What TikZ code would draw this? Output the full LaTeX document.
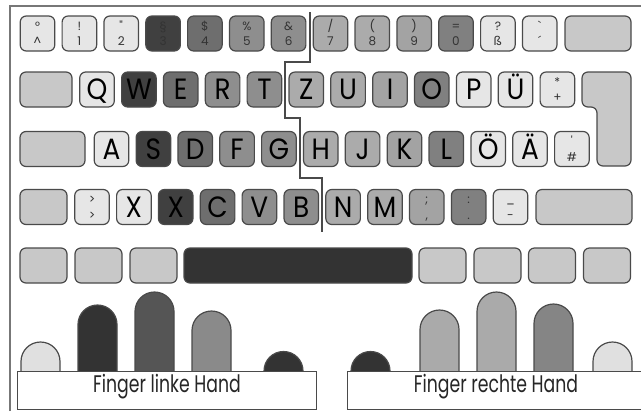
\documentclass[tikz,border=0pt]{standalone}
\usepackage{fontspec}
\newfontfamily\keyfont[FakeStretch=0.9]{Poppins}
\newfontfamily\symfont{Poppins}
\newfontfamily\labfont[FakeStretch=0.72]{Poppins}
\definecolor{kb}{HTML}{4A4A4A}
\definecolor{lk}{HTML}{E6E6E6}
\definecolor{mk}{HTML}{C8C8C8}
\definecolor{rl}{HTML}{404040}
\definecolor{ml}{HTML}{6E6E6E}
\definecolor{il}{HTML}{8E8E8E}
\definecolor{ir}{HTML}{ABABAB}
\definecolor{mr}{HTML}{A3A3A3}
\definecolor{rr}{HTML}{808080}
\definecolor{sp}{HTML}{333333}
\definecolor{fpk}{HTML}{E0E0E0}
\definecolor{frl}{HTML}{333333}
\definecolor{fml}{HTML}{555555}
\definecolor{fil}{HTML}{8A8A8A}
\definecolor{fir}{HTML}{AAAAAA}
\definecolor{fmr}{HTML}{AAAAAA}
\definecolor{frr}{HTML}{858585}
\definecolor{fr}{HTML}{777777}
\newcommand\kkey[5]{\node[key,fill=#4] (#1) at (#2,#3) {#5};}
\newcommand\tkey[6]{\node[key,fill=#4] (#1) at (#2,#3) {};
  \node[sym] (#1t) at ([yshift=5.6pt]#1.center) {#5};
  \node[sym] (#1b) at ([yshift=-6.2pt]#1.center) {#6};}
\begin{document}
\begin{tikzpicture}[x=0.75pt,y=-0.75pt,
  key/.style={draw=kb, line width=0.9pt, rounded corners=4.5pt,
    minimum width=25.9pt, minimum height=26.25pt, inner sep=0pt,
    text height=15.3pt, text depth=0pt, text=black,
    font=\keyfont\fontsize{22}{22}\selectfont},
  sym/.style={inner sep=0pt, text height=6.3pt, text depth=0pt, text=black!80,
    font=\symfont\fontsize{9}{9}\selectfont},
  finger/.style={draw=kb, line width=0.9pt, rounded corners=14.6pt},
  labelbox/.style={draw=kb, line width=0.7pt, fill=white, inner sep=0pt,
    minimum height=28.5pt},
  labeltext/.style={inner sep=0pt, text height=12.5pt, text depth=0pt, text=black!85,
    font=\labfont\fontsize{18}{18}\selectfont},
  divider/.style={draw=kb, line width=0.9pt},
  frameline/.style={draw=fr, line width=1.5pt}]
\useasboundingbox (0,0) rectangle (641,411);
\fill[white] (0,0) rectangle (641,411);
\draw[frameline] (10,411) -- (10,6) -- (641,6);

% row 1
\tkey{k0}{37.5}{33.5}{lk}{°}{\textasciicircum}
\tkey{k1}{79.4}{33.5}{lk}{!}{1}
\tkey{k2}{121.2}{33.5}{lk}{"}{2}
\tkey{k3}{163.1}{33.5}{rl}{§}{3}
\tkey{k4}{204.9}{33.5}{ml}{\$}{4}
\tkey{k5}{246.8}{33.5}{il}{\%}{5}
\tkey{k6}{288.6}{33.5}{il}{\&}{6}
\tkey{k7}{330.5}{33.5}{ir}{/}{7}
\tkey{k8}{372.3}{33.5}{ir}{(}{8}
\tkey{k9}{414.2}{33.5}{mr}{)}{9}
\tkey{k10}{456}{33.5}{rr}{=}{0}
\tkey{k11}{497.9}{33.5}{lk}{?}{ß}
\tkey{k12}{539.7}{33.5}{lk}{\symbol{"60}}{´}
\node[key,fill=mk,minimum width=49.5pt] (bksp) at (598,33.5) {};

% row 2
\node[key,fill=mk,minimum width=39pt] (tab) at (46,89.5) {};
\kkey{q}{97}{89.5}{lk}{Q}
\kkey{w}{138.9}{89.5}{rl}{W}
\kkey{e}{180.7}{89.5}{ml}{E}
\kkey{r}{222.6}{89.5}{il}{R}
\kkey{t}{264.4}{89.5}{il}{T}
\kkey{z}{306.3}{89.5}{ir}{Z}
\kkey{u}{348.1}{89.5}{ir}{U}
\kkey{i}{390}{89.5}{mr}{I}
\kkey{o}{431.8}{89.5}{rr}{O}
\kkey{p}{473.7}{89.5}{lk}{P}
\kkey{ue}{515.5}{89.5}{lk}{Ü}
\tkey{plus}{557.4}{89.5}{lk}{*}{+}
\draw[draw=kb, line width=0.9pt, fill=mk, rounded corners=4.5pt]
  (582,72) -- (631,72) -- (631,166) -- (597,166) -- (597,107) -- (582,107) -- cycle;

% row 3
\node[key,fill=mk,minimum width=48.75pt] (caps) at (52.5,149) {};
\kkey{a}{111.5}{149}{lk}{A}
\kkey{s}{153.4}{149}{rl}{S}
\kkey{d}{195.2}{149}{ml}{D}
\kkey{f}{237.1}{149}{il}{F}
\kkey{g}{278.9}{149}{il}{G}
\kkey{h}{320.8}{149}{ir}{H}
\kkey{j}{362.6}{149}{ir}{J}
\kkey{k}{404.5}{149}{mr}{K}
\kkey{l}{446.3}{149}{rr}{L}
\kkey{oe}{488.2}{149}{lk}{Ö}
\kkey{ae}{530}{149}{lk}{Ä}
\tkey{hash}{571.9}{149}{lk}{'}{\#}

% row 4
\node[key,fill=mk,minimum width=35.25pt] (lshift) at (43.5,207) {};
\tkey{lt}{92}{207}{lk}{>}{>}
\kkey{x1}{133.9}{207}{lk}{X}
\kkey{x2}{175.7}{207}{rl}{X}
\kkey{c}{217.6}{207}{ml}{C}
\kkey{v}{259.4}{207}{il}{V}
\kkey{b}{301.3}{207}{il}{B}
\kkey{n}{343.1}{207}{ir}{N}
\kkey{m}{385}{207}{ir}{M}
\tkey{comma}{426.8}{207}{mr}{;}{,}
\tkey{dot}{468.7}{207}{rr}{:}{.}
\tkey{minus}{510.5}{207}{lk}{\_}{-}
\node[key,fill=mk,minimum width=72pt] (rshift) at (584,207) {};

% row 5
\node[key,fill=mk,minimum width=35.25pt] (m1) at (43.5,265.5) {};
\node[key,fill=mk,minimum width=35.25pt] (m2) at (98.5,265.5) {};
\node[key,fill=mk,minimum width=35.25pt] (m3) at (153.5,265.5) {};
\node[key,fill=sp,minimum width=171pt] (space) at (298,265.5) {};
\node[key,fill=mk,minimum width=35.25pt] (m4) at (442.5,265.5) {};
\node[key,fill=mk,minimum width=35.25pt] (m5) at (497.5,265.5) {};
\node[key,fill=mk,minimum width=35.25pt] (m6) at (552,265.5) {};
\node[key,fill=mk,minimum width=35.25pt] (m7) at (607,265.5) {};

% divider between hands
\draw[divider] (310,12) -- (310,62) -- (285,62) -- (285,118) -- (300,118)
  -- (300,178) -- (322,178) -- (322,232);

% fingers
\draw[finger,fill=fpk] (21,375) -- (21,342) -- (60,342) -- (60,375);
\draw[finger,fill=frl] (78,375) -- (78,305) -- (117,305) -- (117,375);
\draw[finger,fill=fml] (135,375) -- (135,292) -- (174,292) -- (174,375);
\draw[finger,fill=fil] (192,375) -- (192,311) -- (231,311) -- (231,375);
\draw[finger,fill=frl] (264,371) -- (264,351.5) -- (303,351.5) -- (303,371);
\draw[finger,fill=frl] (351,371) -- (351,351.5) -- (390,351.5) -- (390,371);
\draw[finger,fill=fir] (420,375) -- (420,310) -- (459,310) -- (459,375);
\draw[finger,fill=fmr] (477,375) -- (477,292) -- (516,292) -- (516,375);
\draw[finger,fill=frr] (534,375) -- (534,304) -- (573,304) -- (573,375);
\draw[finger,fill=fpk] (593,375) -- (593,342) -- (632,342) -- (632,375);

% label boxes
\node[labelbox,minimum width=224.25pt] (lbox) at (167,390) {};
\node[labelbox,minimum width=223.5pt] (rbox) at (496,390) {};
\node[labeltext] (ltext) at (167,384.5) {Finger linke Hand};
\node[labeltext] (rtext) at (496,384.5) {Finger rechte Hand};
\end{tikzpicture}
\end{document}
